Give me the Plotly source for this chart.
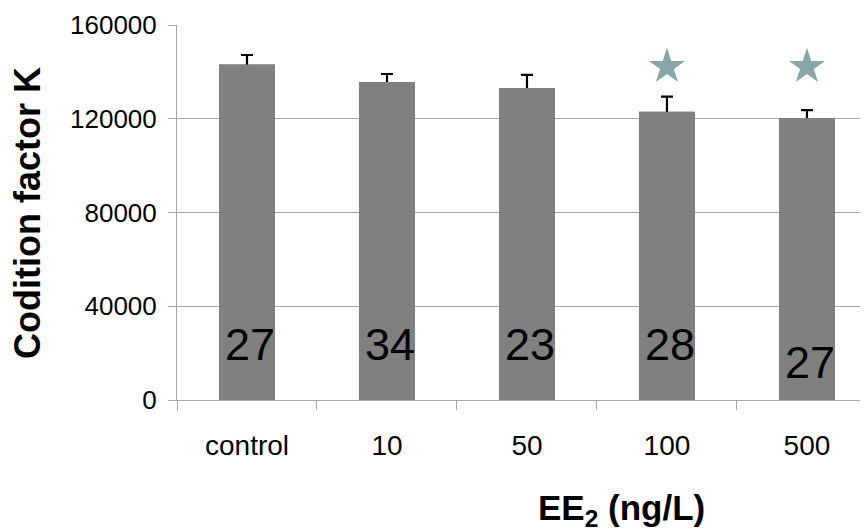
import plotly.graph_objects as go

# ---- data ----
categories = ["control", "10", "50", "100", "500"]
condition_k = [143200, 135700, 133100, 123000, 120200]
error_plus = [4000, 3400, 5600, 6400, 3500]
n_fish = [27, 34, 23, 28, 27]
significant = [False, False, False, True, True]
y_tick_vals = [0, 40000, 80000, 120000, 160000]
y_tick_text = ["0", "40000", "80000", "120000", "160000"]

# ---- placement / style constants ----
STAR_Y = 142200
N_LABEL_Y = [23500, 23500, 23500, 23500, 16200]
FONT = "Liberation Sans, Arial, sans-serif"
GRID = "#A6A6A6"
BAR_COLOR = "#808080"

fig = go.Figure()

# bars carrying the error bars (lower half is hidden by the bars drawn on top)
fig.add_trace(go.Bar(
    x=categories,
    y=condition_k,
    width=0.4,
    marker=dict(color=BAR_COLOR, line=dict(width=0)),
    error_y=dict(type="data", symmetric=True, array=error_plus,
                 color="black", thickness=2.2, width=6),
    showlegend=False,
    hoverinfo="skip",
))
# same bars again, covering the lower part of the error bars
fig.add_trace(go.Bar(
    x=categories,
    y=condition_k,
    width=0.4,
    marker=dict(color=BAR_COLOR, line=dict(width=0)),
    showlegend=False,
))

star_x = [c for c, s in zip(categories, significant) if s]
fig.add_trace(go.Scatter(
    x=star_x,
    y=[STAR_Y] * len(star_x),
    mode="markers",
    marker=dict(symbol="star", size=27, color="#88A5A8", line=dict(width=0)),
    showlegend=False,
))

for i, (n, ly) in enumerate(zip(n_fish, N_LABEL_Y)):
    fig.add_annotation(x=i, y=ly, xref="x", yref="y", text=str(n),
                       showarrow=False, xshift=3,
                       font=dict(family=FONT, size=45, color="black"))

fig.add_annotation(xref="paper", yref="paper", x=0.643, y=-0.292,
                   text="<b>EE<sub>2</sub> (ng/L)</b>", showarrow=False,
                   xanchor="center", yanchor="middle",
                   font=dict(family=FONT, size=35, color="black"))

fig.add_annotation(xref="paper", yref="paper", x=-0.2156, y=0.4987,
                   text="<b>Codition factor K</b>", showarrow=False,
                   textangle=-90, xanchor="center", yanchor="middle",
                   font=dict(family=FONT, size=36, color="black"))

fig.update_layout(
    width=860, height=524,
    margin=dict(l=169, r=0, t=17, b=132),
    paper_bgcolor="white", plot_bgcolor="white",
    font=dict(family=FONT, color="black"),
    barmode="overlay",
    xaxis=dict(
        type="category",
        range=[-0.5, 4.436],
        showline=True, linecolor=GRID, linewidth=1,
        ticks="outside", tickson="boundaries", ticklen=9, tickcolor=GRID,
        tickfont=dict(family=FONT, size=28, color="black"),
        ticklabelstandoff=20,
        showgrid=False,
    ),
    yaxis=dict(
        range=[0, 160000],
        tickvals=y_tick_vals, ticktext=y_tick_text,
        showline=True, linecolor=GRID, linewidth=1,
        ticks="outside", ticklen=8, tickcolor=GRID,
        tickfont=dict(family=FONT, size=26, color="black"),
        ticklabelstandoff=6,
        showgrid=True, gridcolor=GRID, gridwidth=1,
        zeroline=False,
    ),
)

fig.write_html("out.html")
